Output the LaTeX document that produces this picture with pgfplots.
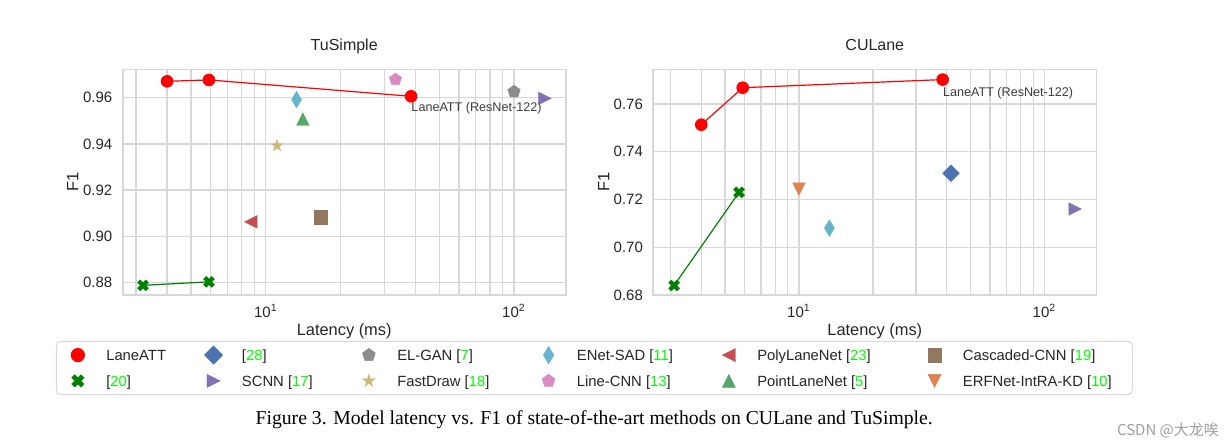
\documentclass[border=0pt]{standalone}
\usepackage{pgfplots}
\pgfplotsset{compat=1.18}
\usepackage{fontspec}
\setmainfont{Liberation Sans}
\newfontfamily\capfont{Liberation Serif}
\newfontfamily\cjk{Noto Sans CJK SC}
\usetikzlibrary{plotmarks}

\definecolor{gridc}{HTML}{D8D8D8}
\definecolor{textc}{HTML}{262626}
\definecolor{citeg}{HTML}{00FF00}
\definecolor{laneatt}{HTML}{FF0000}
\definecolor{ufld}{HTML}{008000}
\definecolor{sbblue}{HTML}{4C72B0}
\definecolor{sborange}{HTML}{DD8452}
\definecolor{sbgreen}{HTML}{55A868}
\definecolor{sbred}{HTML}{C44E52}
\definecolor{sbpurple}{HTML}{8172B3}
\definecolor{sbbrown}{HTML}{937860}
\definecolor{sbpink}{HTML}{DA8BC3}
\definecolor{sbgray}{HTML}{8C8C8C}
\definecolor{sbolive}{HTML}{CCB974}
\definecolor{sbcyan}{HTML}{64B5CD}

\pgfdeclareplotmark{mtri}{%
  \pgfpathmoveto{\pgfqpoint{0pt}{\pgfplotmarksize}}%
  \pgfpathlineto{\pgfqpoint{-\pgfplotmarksize}{-\pgfplotmarksize}}%
  \pgfpathlineto{\pgfqpoint{\pgfplotmarksize}{-\pgfplotmarksize}}%
  \pgfpathclose
  \pgfusepathqfillstroke}
\pgfdeclareplotmark{mstar}{%
  \pgfpathmoveto{\pgfpointpolar{90}{\pgfplotmarksize}}%
  \pgfpathlineto{\pgfpointpolar{126}{0.382\pgfplotmarksize}}%
  \pgfpathlineto{\pgfpointpolar{162}{\pgfplotmarksize}}%
  \pgfpathlineto{\pgfpointpolar{198}{0.382\pgfplotmarksize}}%
  \pgfpathlineto{\pgfpointpolar{234}{\pgfplotmarksize}}%
  \pgfpathlineto{\pgfpointpolar{270}{0.382\pgfplotmarksize}}%
  \pgfpathlineto{\pgfpointpolar{306}{\pgfplotmarksize}}%
  \pgfpathlineto{\pgfpointpolar{342}{0.382\pgfplotmarksize}}%
  \pgfpathlineto{\pgfpointpolar{18}{\pgfplotmarksize}}%
  \pgfpathlineto{\pgfpointpolar{54}{0.382\pgfplotmarksize}}%
  \pgfpathclose
  \pgfusepathqfillstroke}
\pgfdeclareplotmark{mX}{%
  \pgfpathmoveto{\pgfqpoint{0.4714\pgfplotmarksize}{-0.9428\pgfplotmarksize}}%
  \pgfpathlineto{\pgfqpoint{0pt}{-0.4714\pgfplotmarksize}}%
  \pgfpathlineto{\pgfqpoint{-0.4714\pgfplotmarksize}{-0.9428\pgfplotmarksize}}%
  \pgfpathlineto{\pgfqpoint{-0.9428\pgfplotmarksize}{-0.4714\pgfplotmarksize}}%
  \pgfpathlineto{\pgfqpoint{-0.4714\pgfplotmarksize}{0pt}}%
  \pgfpathlineto{\pgfqpoint{-0.9428\pgfplotmarksize}{0.4714\pgfplotmarksize}}%
  \pgfpathlineto{\pgfqpoint{-0.4714\pgfplotmarksize}{0.9428\pgfplotmarksize}}%
  \pgfpathlineto{\pgfqpoint{0pt}{0.4714\pgfplotmarksize}}%
  \pgfpathlineto{\pgfqpoint{0.4714\pgfplotmarksize}{0.9428\pgfplotmarksize}}%
  \pgfpathlineto{\pgfqpoint{0.9428\pgfplotmarksize}{0.4714\pgfplotmarksize}}%
  \pgfpathlineto{\pgfqpoint{0.4714\pgfplotmarksize}{0pt}}%
  \pgfpathlineto{\pgfqpoint{0.9428\pgfplotmarksize}{-0.4714\pgfplotmarksize}}%
  \pgfpathclose
  \pgfusepathqfillstroke}

\pgfplotsset{
  every axis/.append style={
    scale only axis, width=221.5pt, height=112.85pt,
    clip=false,
    axis line style={draw=gridc, line width=0.8pt},
    xmajorgrids, xminorgrids, ymajorgrids,
    major grid style={draw=gridc, line width=0.65pt},
    minor grid style={draw=gridc, line width=0.65pt},
    major tick length=0pt, minor tick length=0pt,
    tick label style={font=\fontsize{7.5}{9}\selectfont, text=textc},
    xticklabel style={anchor=base, inner sep=0pt, yshift=-11.35pt},
    yticklabel style={anchor=east, inner sep=0pt, xshift=-5pt},
    title style={font=\fontsize{8}{9.6}\selectfont, text=textc, at={(axis description cs:0.5,1)}, anchor=base, yshift=3.6pt, inner sep=0pt},
    label style={font=\fontsize{8.2}{9.8}\selectfont, text=textc, inner sep=0pt},
    xlabel style={at={(axis description cs:0.5,0)}, anchor=base, yshift=-20.2pt},
    ylabel style={anchor=base},
  },
}
\tikzset{ann/.style={anchor=base west, inner sep=0pt, font=\fontsize{6.3}{7.5}\selectfont, text=textc!90}}

\begin{document}
\begin{tikzpicture}
\path[use as bounding box] (0pt,0pt) rectangle (616pt,-223.5pt);

% ---------------- TuSimple ----------------
\begin{axis}[xmode=log, at={(61.35pt,-147.5pt)}, anchor=south west,
  xmin=2.65, xmax=161.6, ymin=0.8745, ymax=0.9723,
  xtick={10,100}, xticklabels={10\textsuperscript{1},10\textsuperscript{2}},
  minor xtick={3,4,5,6,7,8,9,20,30,40,50,60,70,80,90},
  ytick={0.88,0.90,0.92,0.94,0.96},
  /pgf/number format/assume math mode=true,
  yticklabel style={/pgf/number format/fixed, /pgf/number format/fixed zerofill, /pgf/number format/precision=2},
  title={TuSimple}, xlabel={Latency (ms)}, ylabel={F1},
  ylabel style={at={(axis description cs:-0.1002,0.5)}}]
\addplot[laneatt, line width=0.6pt, mark=*, mark size=2.85pt, mark options={solid, fill=laneatt}] coordinates {(4.0,0.9671) (5.9,0.9677) (38.5,0.9606)};
\addplot[ufld, line width=0.6pt, mark=mX, mark size=2.92pt, mark options={solid, fill=ufld, line width=0.2pt}] coordinates {(3.2,0.8787) (5.9,0.8802)};
\node[ann, yshift=-7.5pt] at (axis cs:38.5,0.9606) {LaneATT (ResNet-122)};
\addplot[only marks, mark=pentagon*, mark size=3.3pt, sbgray, mark options={fill=sbgray, line width=0.2pt}] coordinates {(100,0.9626)};
\addplot[only marks, mark=mtri, mark size=3.15pt, sbpurple, mark options={fill=sbpurple, line width=0.2pt, rotate=-90}] coordinates {(133.3,0.9597)};
\addplot[only marks, mark=mstar, mark size=3.1pt, sbolive, mark options={fill=sbolive, line width=0.2pt}] coordinates {(11.1,0.9392)};
\addplot[only marks, mark=diamond*, mark size=4.17pt, sbcyan, mark options={fill=sbcyan, line width=0.2pt, xscale=0.8}] coordinates {(13.3,0.9592)};
\addplot[only marks, mark=pentagon*, mark size=3.2pt, sbpink, mark options={fill=sbpink, line width=0.2pt}] coordinates {(33.3,0.9679)};
\addplot[only marks, mark=mtri, mark size=3.15pt, sbred, mark options={fill=sbred, line width=0.2pt, rotate=90}] coordinates {(8.7,0.9062)};
\addplot[only marks, mark=mtri, mark size=3.15pt, sbgreen, mark options={fill=sbgreen, line width=0.2pt}] coordinates {(14.1,0.9507)};
\addplot[only marks, mark=square*, mark size=3.3pt, sbbrown, mark options={fill=sbbrown, line width=0.2pt}] coordinates {(16.7,0.9082)};
\end{axis}

% ---------------- CULane ----------------
\begin{axis}[xmode=log, at={(326.65pt,-147.5pt)}, anchor=south west,
  xmin=2.55, xmax=162.6, ymin=0.68, ymax=0.7745,
  xtick={10,100}, xticklabels={10\textsuperscript{1},10\textsuperscript{2}},
  minor xtick={3,4,5,6,7,8,9,20,30,40,50,60,70,80,90},
  ytick={0.68,0.70,0.72,0.74,0.76},
  /pgf/number format/assume math mode=true,
  yticklabel style={/pgf/number format/fixed, /pgf/number format/fixed zerofill, /pgf/number format/precision=2},
  title={CULane}, xlabel={Latency (ms)}, ylabel={F1},
  ylabel style={at={(axis description cs:-0.099,0.5)}},
  legend columns=6,
  legend cell align=left,
  legend image code/.code={\path[draw=none, fill=none] (-7pt,-4pt) rectangle (7pt,4pt); \draw[#1] plot coordinates {(0pt,0pt)};},
  legend style={at={(axis description cs:-0.1331,-0.3234)}, anchor=center,
    draw=gridc, line width=0.5pt, rounded corners=2.5pt, fill=white,
    inner xsep=3.8pt, inner ysep=2.3pt,
    font=\fontsize{7.4}{8.5}\selectfont, text=textc,
    row sep=3.7pt,
    /tikz/every odd column/.style={column sep=7.2pt},
    /tikz/every even column/.style={column sep=0pt},
    nodes={inner sep=0pt, text height=0.72em, text depth=0.2em}},
]
\addlegendimage{only marks, mark=*, mark size=3.3pt, laneatt, mark options={fill=laneatt}}
\addlegendentry{\makebox[46.65pt][l]{LaneATT}}
\addlegendimage{only marks, mark=square*, mark size=3.25pt, sbblue, mark options={fill=sbblue, rotate=45, line width=0.2pt}}
\addlegendentry{\makebox[56.45pt][l]{[\textcolor{citeg}{28}]}}
\addlegendimage{only marks, mark=pentagon*, mark size=3.4pt, sbgray, mark options={fill=sbgray, line width=0.2pt}}
\addlegendentry{\makebox[68.65pt][l]{EL-GAN [\textcolor{citeg}{7}]}}
\addlegendimage{only marks, mark=diamond*, mark size=4.4pt, sbcyan, mark options={fill=sbcyan, xscale=0.8, line width=0.2pt}}
\addlegendentry{\makebox[68.95pt][l]{ENet-SAD [\textcolor{citeg}{11}]}}
\addlegendimage{only marks, mark=mtri, mark size=3.3pt, sbred, mark options={fill=sbred, rotate=90, line width=0.2pt}}
\addlegendentry{\makebox[81.65pt][l]{PolyLaneNet [\textcolor{citeg}{23}]}}
\addlegendimage{only marks, mark=square*, mark size=3.3pt, sbbrown, mark options={fill=sbbrown, line width=0.2pt}}
\addlegendentry{\makebox[80.9pt][l]{Cascaded-CNN [\textcolor{citeg}{19}]}}
\addlegendimage{only marks, mark=mX, mark size=3.3pt, ufld, mark options={fill=ufld, line width=0.2pt}}
\addlegendentry{\makebox[46.65pt][l]{[\textcolor{citeg}{20}]}}
\addlegendimage{only marks, mark=mtri, mark size=3.3pt, sbpurple, mark options={fill=sbpurple, rotate=-90, line width=0.2pt}}
\addlegendentry{\makebox[56.45pt][l]{SCNN [\textcolor{citeg}{17}]}}
\addlegendimage{only marks, mark=mstar, mark size=3.3pt, sbolive, mark options={fill=sbolive, line width=0.2pt}}
\addlegendentry{\makebox[68.65pt][l]{FastDraw [\textcolor{citeg}{18}]}}
\addlegendimage{only marks, mark=pentagon*, mark size=3.4pt, sbpink, mark options={fill=sbpink, line width=0.2pt}}
\addlegendentry{\makebox[68.95pt][l]{Line-CNN [\textcolor{citeg}{13}]}}
\addlegendimage{only marks, mark=mtri, mark size=3.3pt, sbgreen, mark options={fill=sbgreen, line width=0.2pt}}
\addlegendentry{\makebox[81.65pt][l]{PointLaneNet [\textcolor{citeg}{5}]}}
\addlegendimage{only marks, mark=mtri, mark size=3.3pt, sborange, mark options={fill=sborange, rotate=180, line width=0.2pt}}
\addlegendentry{\makebox[80.9pt][l]{ERFNet-IntRA-KD [\textcolor{citeg}{10}]}}
\addplot[forget plot, laneatt, line width=0.6pt, mark=*, mark size=2.85pt, mark options={solid, fill=laneatt}] coordinates {(4.0,0.7513) (5.9,0.7668) (38.5,0.7702)};
\addplot[forget plot, ufld, line width=0.6pt, mark=mX, mark size=2.92pt, mark options={solid, fill=ufld, line width=0.2pt}] coordinates {(3.1,0.6840) (5.7,0.7230)};
\node[ann, yshift=-8.3pt] at (axis cs:38.5,0.7702) {LaneATT (ResNet-122)};
\addplot[forget plot, only marks, mark=square*, mark size=2.95pt, sbblue, mark options={fill=sbblue, rotate=45, line width=0.2pt}] coordinates {(41.6,0.7310)};
\addplot[forget plot, only marks, mark=mtri, mark size=3.15pt, sbpurple, mark options={fill=sbpurple, line width=0.2pt, rotate=-90}] coordinates {(133.3,0.7160)};
\addplot[forget plot, only marks, mark=diamond*, mark size=4.17pt, sbcyan, mark options={fill=sbcyan, line width=0.2pt, xscale=0.8}] coordinates {(13.3,0.7080)};
\addplot[forget plot, only marks, mark=mtri, mark size=3.15pt, sborange, mark options={fill=sborange, line width=0.2pt, rotate=180}] coordinates {(10.0,0.7243)};
\end{axis}

\node[anchor=base, inner sep=0pt, font=\capfont\fontsize{9.85}{11.8}\selectfont] at (297.1pt,-212pt)
  {Figure 3. Model latency vs. F1 of state-of-the-art methods on CULane and TuSimple.};
\node[anchor=base west, inner sep=0pt, text=black!38, font=\cjk\fontsize{7.5}{9}\selectfont] at (558.35pt,-217.85pt) {CSDN @大龙唉};
\end{tikzpicture}
\end{document}
